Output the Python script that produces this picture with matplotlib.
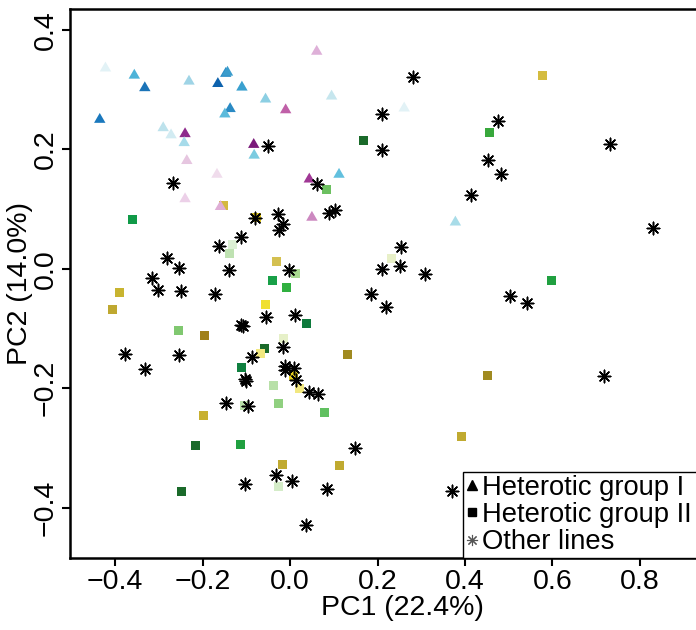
import numpy as np
import matplotlib
matplotlib.use('Agg')
import matplotlib.pyplot as plt
from matplotlib.lines import Line2D

plt.rcParams['font.family'] = ['Liberation Sans', 'DejaVu Sans']

## heterotic group I (triangles)
tri_x = [-0.422, -0.356, -0.332, -0.231, -0.165, -0.147, -0.143, -0.110, -0.056, -0.010,
         -0.435, -0.137, -0.149, -0.290, -0.272, -0.240, -0.242, -0.083, -0.082, -0.236,
         -0.167, 0.044, -0.240, 0.061, 0.095, 0.261, 0.112, -0.159, 0.050, 0.378]
tri_y = [0.336, 0.324, 0.303, 0.314, 0.310, 0.327, 0.329, 0.304, 0.284, 0.266,
         0.250, 0.268, 0.259, 0.236, 0.224, 0.226, 0.211, 0.208, 0.190, 0.181,
         0.158, 0.150, 0.117, 0.364, 0.289, 0.269, 0.158, 0.104, 0.086, 0.078]
tri_col = ['#e2f2f6', '#4db3d8', '#1b74b8', '#9fd4e6', '#0e62ad', '#2a8cc6', '#3a9ccc', '#3aa0cf', '#8ccfe3', '#c060a8',
           '#1a78bd', '#2a8ac4', '#5bbadb', '#bde2ec', '#d2ebf2', '#8e2a8c', '#a6dbea', '#7a1a7a', '#7bcbe0', '#e6c6e0',
           '#f0dcec', '#a03895', '#ecd0e8', '#deb0d8', '#c6e6ee', '#e2f2f6', '#62c0de', '#dfaed6', '#cc88c0', '#a8dce8']

## heterotic group II (squares)
sq_x = [0.577, 0.456, 0.167, 0.084, -0.153, -0.361, -0.076, -0.132, -0.139, -0.032,
        0.012, -0.391, -0.040, -0.008, -0.407, -0.055, 0.037, -0.256, -0.195, -0.015,
        -0.059, -0.068, 0.231, 0.597, 0.132, -0.112, 0.008, 0.021, -0.037, -0.105,
        -0.027, -0.198, -0.217, -0.114, -0.018, -0.026, -0.247, 0.451, 0.078, 0.392, 0.113]
sq_y = [0.323, 0.229, 0.215, 0.132, 0.106, 0.083, 0.086, 0.041, 0.026, 0.013,
        -0.008, -0.039, -0.020, -0.031, -0.069, -0.059, -0.091, -0.104, -0.111, -0.116,
        -0.134, -0.142, 0.017, -0.019, -0.143, -0.165, -0.179, -0.200, -0.195, -0.229,
        -0.225, -0.246, -0.296, -0.294, -0.327, -0.364, -0.373, -0.178, -0.241, -0.281, -0.329]
sq_col = ['#d4bc40', '#38a83c', '#1a6a2a', '#6cc060', '#d4b840', '#109a48', '#d8c020', '#dcf0d4', '#bfe2b2', '#d4c050',
          '#a8d890', '#c8b430', '#18a048', '#30b040', '#bfa830', '#f0e030', '#0e7a3c', '#80c870', '#a08018', '#e6f0c8',
          '#1a6a2a', '#f2e880', '#e8f0c8', '#20a040', '#a08a20', '#108040', '#e8d020', '#f2e880', '#b8e0a8', '#b8e0a8',
          '#90d080', '#c8b030', '#1a6a2a', '#20a040', '#c0aa30', '#d4ecc8', '#1a6a2a', '#a08a20', '#60c060', '#c0aa30', '#c0aa30']

## other lines (asterisks)
oth_x = [-0.050, -0.268, 0.281, 0.211, 0.476, 0.210, 0.732, 0.453, 0.483, 0.061,
         0.414, -0.081, -0.028, -0.015, -0.025, -0.111, -0.163, -0.281, -0.254, -0.139,
         -0.002, -0.315, -0.301, -0.250, -0.172, -0.055, 0.012, -0.111, -0.108, -0.016,
         -0.377, -0.253, -0.088, 0.088, 0.103, 0.829, 0.253, 0.211, 0.251, 0.308,
         0.185, 0.504, 0.220, 0.542, -0.331, -0.102, -0.101, -0.011, -0.011, 0.010,
         0.014, 0.044, 0.063, -0.146, -0.095, -0.032, 0.005, -0.102, 0.036, 0.718,
         0.149, 0.084, 0.371]
oth_y = [0.206, 0.144, 0.321, 0.259, 0.248, 0.199, 0.209, 0.183, 0.159, 0.142,
         0.124, 0.085, 0.091, 0.075, 0.065, 0.053, 0.039, 0.018, 0.001, -0.002,
         -0.002, -0.016, -0.036, -0.037, -0.043, -0.081, -0.077, -0.094, -0.096, -0.131,
         -0.142, -0.145, -0.148, 0.094, 0.098, 0.069, 0.036, -0.001, 0.004, -0.008,
         -0.043, -0.046, -0.064, -0.058, -0.168, -0.184, -0.188, -0.163, -0.170, -0.167,
         -0.187, -0.206, -0.209, -0.224, -0.229, -0.345, -0.356, -0.360, -0.429, -0.179,
         -0.300, -0.369, -0.372]

xticks = [-0.4, -0.2, 0.0, 0.2, 0.4, 0.6, 0.8]
yticks = [-0.4, -0.2, 0.0, 0.2, 0.4]

tri_marker = [(0, 1), (-0.866, -0.5), (0.866, -0.5)]
ast_marker = (8, 2, 0)
fs = 20.5
xlim = (-0.503, 1.015)
ylim = (-0.4844, 0.4347)

fig = plt.figure(figsize=(6.96, 6.30), dpi=100)
# plot region runs past the right edge of the picture, as in the original crop
ax = fig.add_axes([0.1006, 0.1143, 0.954, 0.871])

ax.scatter(sq_x, sq_y, c=sq_col, marker='s', s=42, linewidths=0, zorder=2)
ax.scatter(tri_x, tri_y, c=tri_col, marker=tri_marker, s=90, linewidths=0, zorder=3)
ax.scatter(oth_x, oth_y, c='black', marker=ast_marker, s=80, linewidths=1.1, zorder=4)

ax.set_xlim(*xlim)
ax.set_ylim(*ylim)
ax.set_xticks(xticks)
ax.set_yticks(yticks)
ax.set_xticklabels(['{:.1f}'.format(v).replace('-', '\u2212') for v in xticks])
ax.set_yticklabels(['{:.1f}'.format(v).replace('-', '\u2212') for v in yticks],
                   rotation=90, va='center')

for sp in ax.spines.values():
    sp.set_linewidth(1.8)
ax.tick_params(direction='out', length=6, width=1.5, labelsize=fs, pad=2)

ax.set_xlabel('PC1 (22.4%)', fontsize=fs, labelpad=0)
ax.set_ylabel('PC2 (14.0%)', fontsize=fs, labelpad=0)

handles = [
    Line2D([], [], linestyle='none', marker='^', color='black', markersize=7),
    Line2D([], [], linestyle='none', marker='s', color='black', markersize=5.5),
    Line2D([], [], linestyle='none', marker=ast_marker, color='#555555', markersize=8, markeredgewidth=0.8),
]
labels = ['Heterotic group I', 'Heterotic group II', 'Other lines']
# legend box stretched to the right edge of the plot region (bottom-right legend)
leg_x0 = 0.395
leg = ax.legend(handles, labels, loc='lower left', mode='expand',
                bbox_to_anchor=(leg_x0, ylim[0], xlim[1] - leg_x0, 0.1),
                bbox_transform=ax.transData, borderaxespad=0, fontsize=19.7,
                handlelength=0.5, handletextpad=0.1, labelspacing=0.05, borderpad=0.1,
                fancybox=False, framealpha=1, edgecolor='black')
leg.get_frame().set_linewidth(1.0)

fig.savefig('out.png', dpi=100)
